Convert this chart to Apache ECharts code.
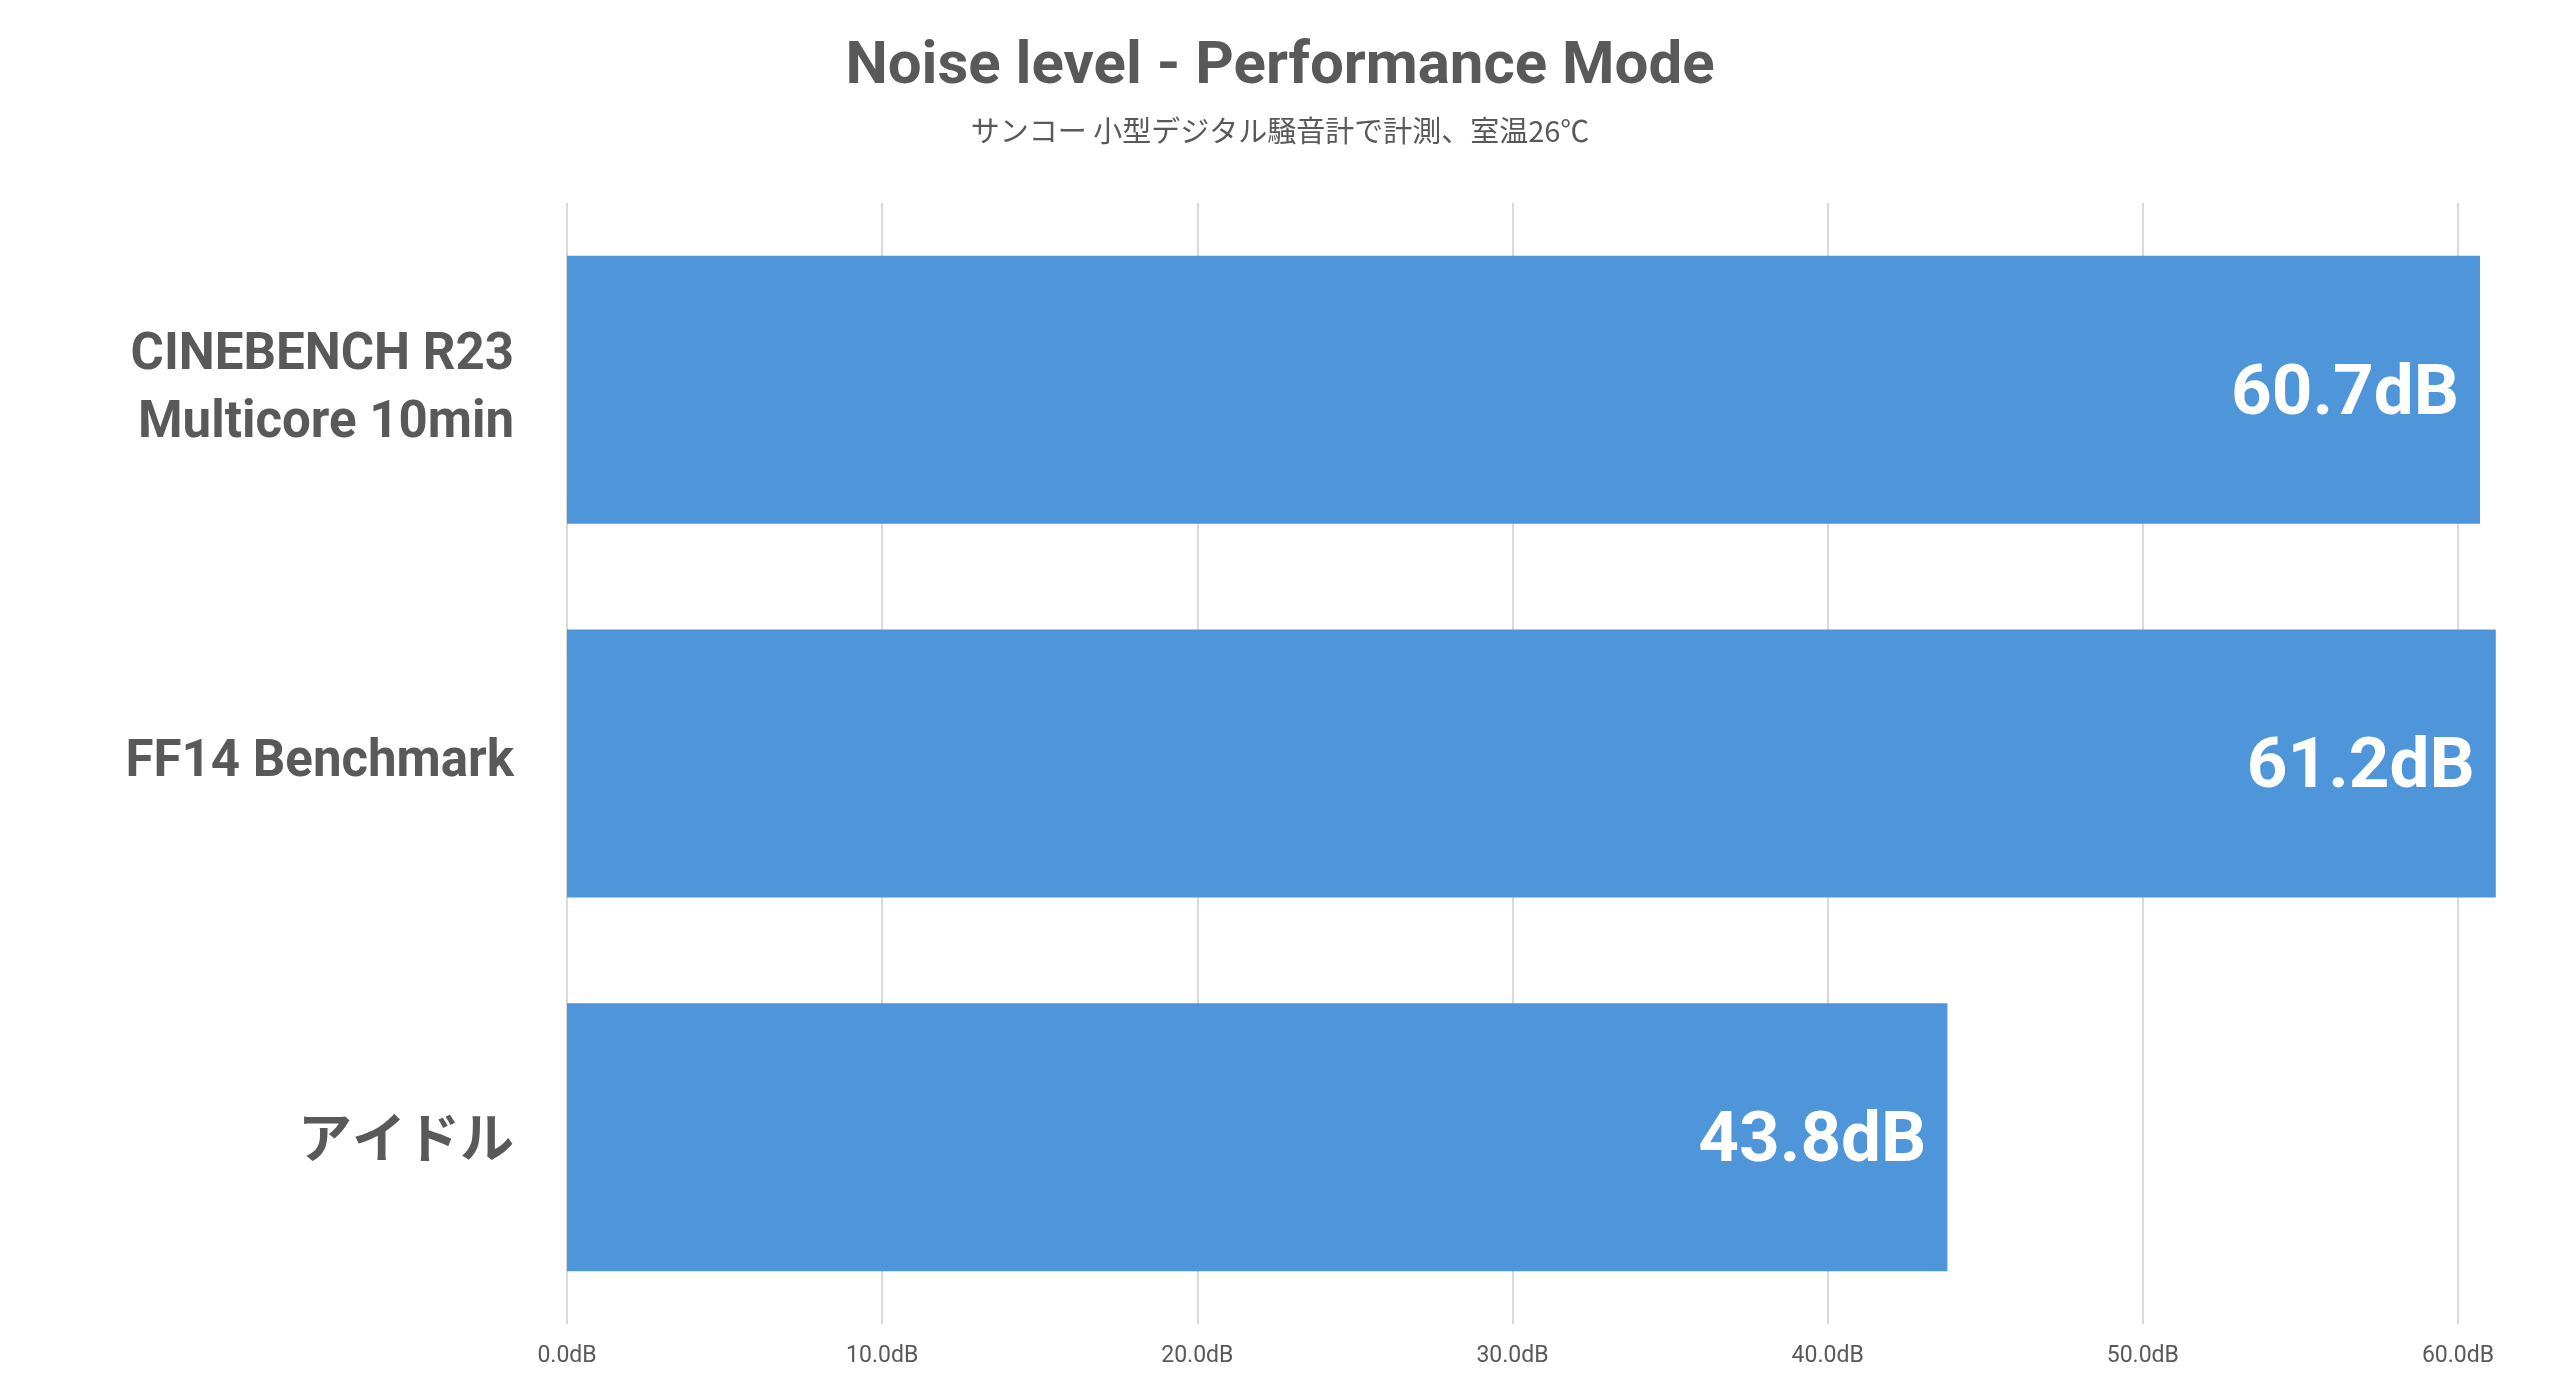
<!DOCTYPE html>
<html>
<head>
<meta charset="utf-8">
<title>Noise level - Performance Mode</title>
<script src="https://cdn.jsdelivr.net/npm/echarts@6/dist/echarts.min.js"></script>
<style>
  html, body { margin: 0; padding: 0; background: #fff; }
  #chart { width: 2560px; height: 1379px; }
</style>
</head>
<body>
<div id="chart"></div>
<script>
// data
const categories = ['CINEBENCH R23\nMulticore 10min', 'FF14 Benchmark', 'アイドル'];
const noiseDb = [60.7, 61.2, 43.8];
const titleText = 'Noise level - Performance Mode';
const subText = 'サンコー 小型デジタル騒音計で計測、室温26℃';

const FONT = 'Roboto, "Noto Sans CJK JP", sans-serif';
const GREY = '#595959';

// last split line (at axis max) stays invisible, like the reference
const splitColors = ['#d9d9d9', '#d9d9d9', '#d9d9d9', '#d9d9d9', '#d9d9d9', '#d9d9d9', '#d9d9d9', 'rgba(0,0,0,0)'];

const chart = echarts.init(document.getElementById('chart'), null, { renderer: 'canvas' });

chart.setOption({
    animation: false,
    backgroundColor: '#ffffff',
    title: [
        {
            text: titleText,
            left: 'center',
            top: 33,
            textStyle: { fontFamily: FONT, fontSize: 60, fontWeight: 'bold', color: GREY }
        },
        {
            text: subText,
            left: 'center',
            top: 111,
            textStyle: { fontFamily: '"Noto Sans CJK JP", Roboto, sans-serif', fontSize: 29, fontWeight: 'normal', color: GREY }
        }
    ],
    grid: { left: 567, right: 39, top: 203, bottom: 55 },
    xAxis: {
        type: 'value',
        min: 0,
        max: 62,
        interval: 10,
        axisLine: { show: false },
        axisTick: { show: false },
        splitLine: { lineStyle: { color: splitColors, width: 2 } },
        axisLabel: {
            showMaxLabel: false,
            margin: 21,
            fontFamily: FONT,
            fontSize: 23,
            color: GREY,
            formatter: v => v.toFixed(1) + 'dB'
        }
    },
    yAxis: {
        type: 'category',
        data: categories,
        inverse: true,
        axisLine: { show: false },
        axisTick: { show: false },
        axisLabel: {
            margin: 53,
            fontFamily: FONT,
            fontSize: 51,
            fontWeight: 'bold',
            lineHeight: 68,
            color: GREY,
            align: 'right',
            // katakana labels are set a bit larger in the reference
            formatter: v => /[\u3040-\u30ff]/.test(v) ? '{jp|' + v + '}' : v,
            rich: {
                jp: { fontFamily: '"Noto Sans CJK JP", sans-serif', fontSize: 54, fontWeight: 'bold', color: GREY, lineHeight: 68 }
            }
        }
    },
    series: [{
        type: 'bar',
        data: noiseDb,
        barWidth: '71.7%',
        itemStyle: { color: '#4f95d9' },
        label: {
            show: true,
            position: 'insideRight',
            distance: 21,
            offset: [0, 6],
            fontFamily: FONT,
            fontSize: 71,
            fontWeight: 'bold',
            color: '#ffffff',
            formatter: p => p.value.toFixed(1) + 'dB'
        }
    }]
});
</script>
</body>
</html>
